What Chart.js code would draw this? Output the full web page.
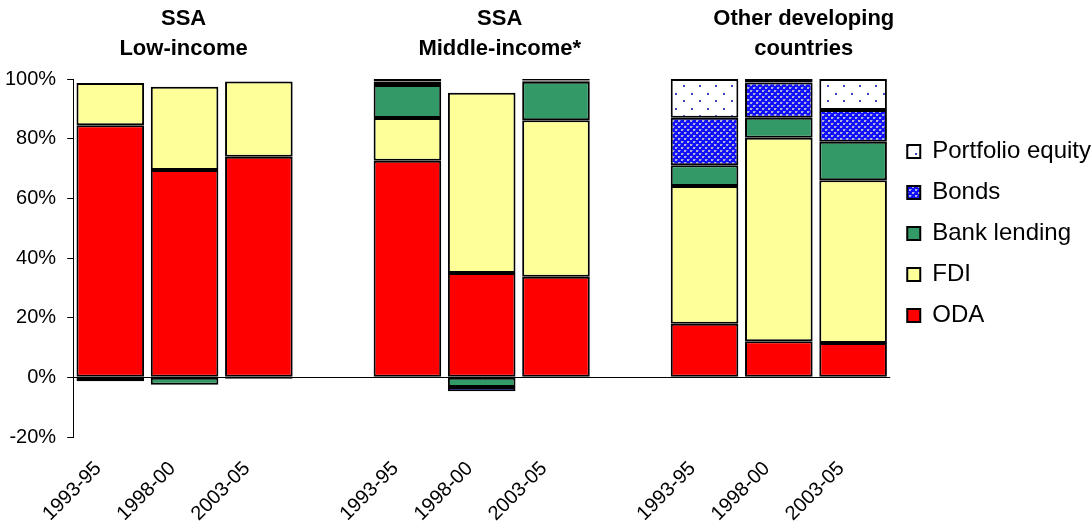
<!DOCTYPE html>
<html>
<head>
<meta charset="utf-8">
<script src="https://cdn.jsdelivr.net/npm/chart.js@4/dist/chart.umd.min.js"></script>
<style>
  html, body { margin: 0; padding: 0; background: #fff; }
  #wrap { width: 1092px; height: 525px; position: relative; overflow: hidden; }
</style>
</head>
<body>
<div id="wrap"><canvas id="grafica"></canvas></div>
<script>
// ── DATOS ──────────────────────────────────────────────
const periodos = ['1993-95', '1998-00', '2003-05', '', '1993-95', '1998-00', '2003-05', '', '1993-95', '1998-00', '2003-05'];
const grupos = [['SSA', 'Low-income'], ['SSA', 'Middle-income*'], ['Other developing', 'countries']];

const oda       = [84.5, 69.5, 73.9, null, 72.6, 35.0, 33.7, null, 18.0, 12.1, 11.5];
const fdi       = [14.2, 27.9, 25.3, null, 14.3, 60.4, 52.5, null, 46.1, 68.2, 54.6];
const bank      = [-1.3, -2.5, -0.5, null, 11.1, -3.2, 12.9, null, 7.0, 6.7, 12.9];
const bonds     = [null, null, null, null, 1.2, -1.5, 0.4, null, 15.9, 11.8, 10.6];
const portfolio = [null, null, null, null, 0.8, null, 0.5, null, 13.0, 1.2, 10.4];

const yTicks = [-20, 0, 20, 40, 60, 80, 100];

const FONT = '"Liberation Sans", Arial, sans-serif';

// ── PATRONES ───────────────────────────────────────────
function patronBonos() {
    const c = document.createElement('canvas');
    c.width = 6; c.height = 6;
    const g = c.getContext('2d');
    g.fillStyle = '#1010ff';
    g.fillRect(0, 0, 6, 6);
    g.fillStyle = '#b0b0d8';
    g.fillRect(0, 0, 2, 2);
    g.fillRect(3, 3, 2, 2);
    g.fillStyle = '#6060e8';
    g.fillRect(2, 0, 1, 1);
    g.fillRect(5, 3, 1, 1);
    return g.createPattern(c, 'repeat');
}

function patronPortafolio() {
    const c = document.createElement('canvas');
    c.width = 16; c.height = 15;
    const g = c.getContext('2d');
    g.fillStyle = '#ffffff';
    g.fillRect(0, 0, 16, 15);
    g.fillStyle = '#4040b8';
    g.fillRect(3, 3, 2, 2);
    g.fillRect(11, 10, 2, 2);
    return g.createPattern(c, 'repeat');
}

// ── TÍTULOS DE GRUPO ───────────────────────────────────
const titulosGrupo = {
    id: 'titulosGrupo',
    afterDraw(chart) {
        const ctx = chart.ctx;
        const x = chart.scales.x;
        const centros = [x.getPixelForValue(1) - 1, x.getPixelForValue(5) + 18, x.getPixelForValue(9) + 25];
        ctx.save();
        ctx.fillStyle = '#000';
        ctx.font = 'bold 22px ' + FONT;
        ctx.textAlign = 'center';
        ctx.textBaseline = 'middle';
        grupos.forEach((lineas, i) => {
            ctx.fillText(lineas[0], centros[i], 19);
            ctx.fillText(lineas[1], centros[i], 49);
        });
        ctx.restore();
    }
};

const comun = { borderColor: '#000', borderWidth: 2, borderSkipped: false };

new Chart(document.getElementById('grafica'), {
    type: 'bar',
    data: {
        labels: periodos,
        datasets: [
            { label: 'ODA', data: oda, backgroundColor: '#ff0000', ...comun },
            { label: 'FDI', data: fdi, backgroundColor: '#ffff99', ...comun },
            { label: 'Bank lending', data: bank, backgroundColor: '#339966', ...comun },
            { label: 'Bonds', data: bonds, backgroundColor: patronBonos(), ...comun },
            { label: 'Portfolio equity', data: portfolio, backgroundColor: patronPortafolio(), ...comun }
        ]
    },
    options: {
        responsive: true,
        maintainAspectRatio: false,
        animation: false,
        layout: { padding: { top: 79, left: -6, right: -9, bottom: 0 } },
        datasets: { bar: { categoryPercentage: 1, barPercentage: 0.91 } },
        plugins: {
            tooltip: { enabled: false },
            legend: {
                position: 'right',
                align: 'start',
                reverse: true,
                padding: 4,
                title: { display: true, text: ' ', padding: { top: 29, bottom: 0 } },
                labels: {
                    color: '#000',
                    font: { family: FONT, size: 24 },
                    boxWidth: 13,
                    boxHeight: 13,
                    padding: 17
                }
            }
        },
        scales: {
            x: {
                stacked: true,
                grid: { display: false, drawTicks: false },
                border: { display: false },
                ticks: {
                    color: '#000',
                    font: { family: FONT, size: 20 },
                    maxRotation: 45,
                    minRotation: 45,
                    autoSkip: false,
                    padding: 20,
                    labelOffset: -12
                },
                afterFit: s => { s.height = 88; s.paddingLeft = 0; s.paddingRight = 0; }
            },
            y: {
                stacked: true,
                min: -20,
                max: 100,
                afterBuildTicks: axis => { axis.ticks = yTicks.map(v => ({ value: v })); },
                grid: {
                    color: ctx => (ctx.tick && ctx.tick.value === 0) ? '#000' : 'rgba(0,0,0,0)',
                    tickColor: '#000',
                    tickLength: 6,
                    lineWidth: 1
                },
                border: { display: true, color: '#000', width: 1 },
                ticks: {
                    color: '#000',
                    font: { family: FONT, size: 20 },
                    padding: 11,
                    callback: v => v + '%'
                }
            }
        }
    },
    plugins: [titulosGrupo]
});
</script>
</body>
</html>
